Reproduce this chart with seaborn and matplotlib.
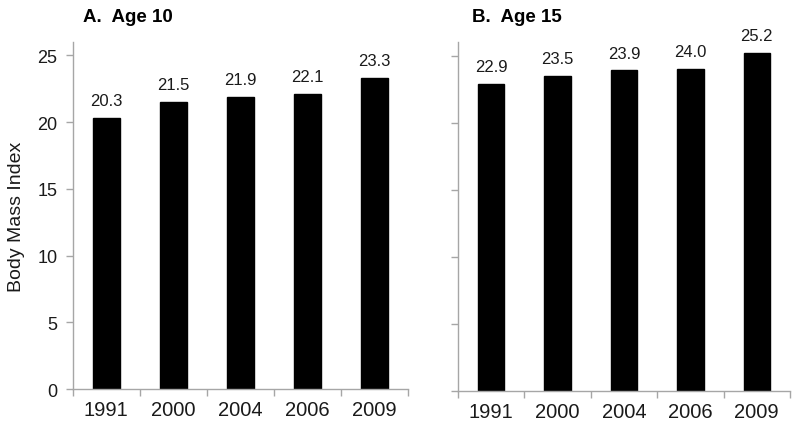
import numpy as np
import pandas as pd
import seaborn as sns
import matplotlib.pyplot as plt
from matplotlib.ticker import FixedLocator

# data
years = ['1991', '2000', '2004', '2006', '2009']
bmi_age10 = [20.3, 21.5, 21.9, 22.1, 23.3]
bmi_age15 = [22.9, 23.5, 23.9, 24.0, 25.2]
titles = ['A.  Age 10', 'B.  Age 15']

sns.set_theme(style='white')
plt.rcParams['font.family'] = ['Liberation Sans', 'DejaVu Sans']

fig = plt.figure(figsize=(8, 4.31), dpi=100)
ax1 = fig.add_axes([0.091, 0.095, 0.419, 0.805])
ax2 = fig.add_axes([0.5725, 0.090, 0.415, 0.810])

spine_col = '#a6a6a6'
text_col = '#1a1a1a'

for ax, vals, title, show_y, tx in zip([ax1, ax2], [bmi_age10, bmi_age15], titles,
                                       [True, False], [0.03, 0.042]):
    df = pd.DataFrame({'year': years, 'bmi': vals})
    sns.barplot(df, x='year', y='bmi', color='black', width=0.4, ax=ax,
                saturation=1, edgecolor='black')
    for i, v in enumerate(vals):
        ax.annotate(f'{v:.1f}', (i, v), xytext=(0, 7), textcoords='offset points',
                    ha='center', va='bottom', fontsize=12, color=text_col)

    ax.set_xlim(-0.5, 4.5)
    ax.set_ylim(0, 26)
    ax.set_yticks([0, 5, 10, 15, 20, 25])
    ax.xaxis.set_minor_locator(FixedLocator(np.arange(-0.5, 5, 1)))
    ax.tick_params(axis='x', which='major', length=0, labelsize=14.5,
                   labelcolor=text_col, pad=8)
    ax.tick_params(axis='x', which='minor', length=5, width=1,
                   color=spine_col, direction='out', bottom=True)
    ax.tick_params(axis='y', length=5, width=1, color=spine_col, direction='out',
                   left=True, labelsize=13, labelcolor=text_col, pad=6,
                   labelleft=show_y)
    for s in ['top', 'right']:
        ax.spines[s].set_visible(False)
    for s in ['left', 'bottom']:
        ax.spines[s].set_color(spine_col)
        ax.spines[s].set_linewidth(1)
    ax.set_xlabel('')
    ax.set_ylabel('Body Mass Index' if show_y else '', fontsize=14,
                  color=text_col, labelpad=9)
    ax.text(tx, 1.06, title, transform=ax.transAxes, fontsize=13.5,
            fontweight='bold', color='black', ha='left', va='baseline')

fig.savefig('out.png', dpi=100)
